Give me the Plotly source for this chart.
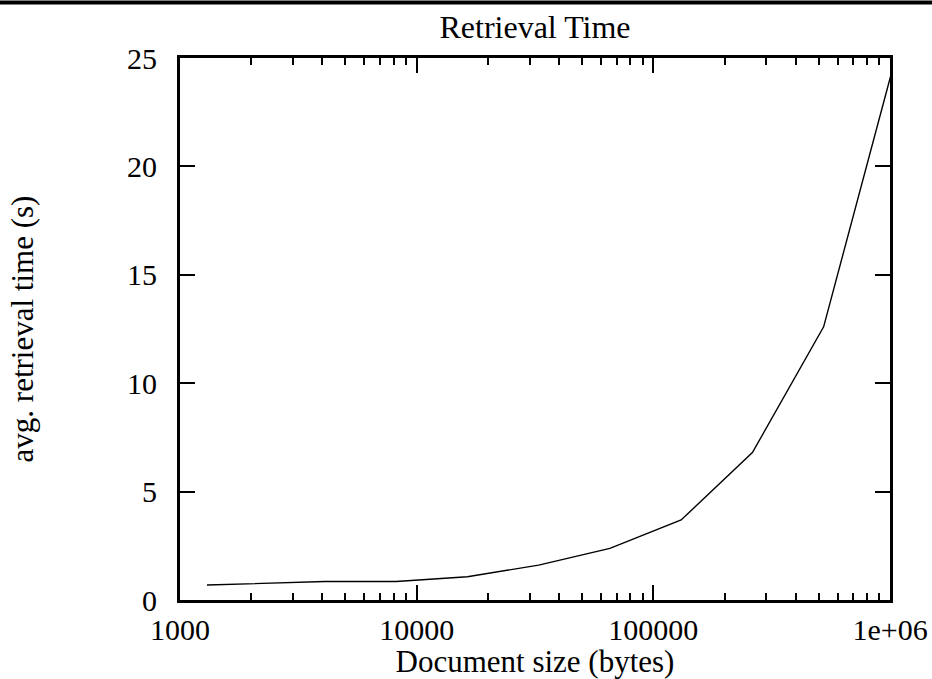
import plotly.graph_objects as go

doc_size = [1300, 4096, 8192, 16384, 32768, 65536, 131072, 262144, 524288, 1048576]
avg_time = [0.69, 0.85, 0.85, 1.07, 1.61, 2.38, 3.69, 6.8, 12.6, 24.9]

x_tickvals = [1000, 10000, 100000, 1000000]
x_ticktext = ["1000", "10000", "100000", "1e+06"]
x_minor = [m * 10 ** e for e in (3, 4, 5) for m in range(2, 10)]
y_tickvals = [0, 5, 10, 15, 20, 25]

FONT = "Liberation Serif"
FS = 30
FT = 31

W, H = 932, 679
L, R, T, B = 180, 42, 58, 79
pw, ph = W - L - R, H - T - B

fig = go.Figure()
fig.add_trace(go.Scatter(x=doc_size, y=avg_time, mode="lines",
                         line=dict(color="black", width=1.4), showlegend=False))

axis_common = dict(showline=True, linecolor="black", linewidth=3, mirror="ticks",
                   ticks="inside", ticklen=15, tickwidth=2, tickcolor="black",
                   showgrid=False, zeroline=False,
                   tickfont=dict(family=FONT, size=FS, color="black"))

fig.update_xaxes(type="log", range=[3, 6], tickmode="array",
                 tickvals=x_tickvals, ticktext=x_ticktext,
                 minor=dict(ticks="inside", ticklen=7, tickwidth=2, tickcolor="black",
                            tickmode="array", tickvals=x_minor, showgrid=False),
                 title=dict(text="Document size (bytes)", font=dict(family=FONT, size=FT, color="black"),
                            standoff=6),
                 ticklabelstandoff=1,
                 **axis_common)
fig.update_yaxes(range=[0, 25], tickmode="array", tickvals=y_tickvals,
                 title=dict(text="avg. retrieval time (s)", font=dict(family=FONT, size=FT, color="black"),
                            standoff=85),
                 ticklabelstandoff=14,
                 **axis_common)

# top rule across the page
fig.add_shape(type="line", xref="paper", yref="paper",
              x0=-L / pw, x1=1 + R / pw, y0=1 + (T - 2.5) / ph, y1=1 + (T - 2.5) / ph,
              line=dict(color="black", width=4))

fig.update_layout(
    width=W, height=H,
    margin=dict(l=L, r=R, t=T, b=B, autoexpand=False),
    paper_bgcolor="white", plot_bgcolor="white",
    title=dict(text="Retrieval Time", xref="paper", x=0.5, xanchor="center",
               yref="container", y=1 - 27 / H, yanchor="middle",
               font=dict(family=FONT, size=32, color="black")),
    font=dict(family=FONT, size=FS, color="black"),
)

fig.write_html("out.html", config={"displayModeBar": False},
               post_script="document.body.style.margin='0';document.body.style.overflow='hidden';")
